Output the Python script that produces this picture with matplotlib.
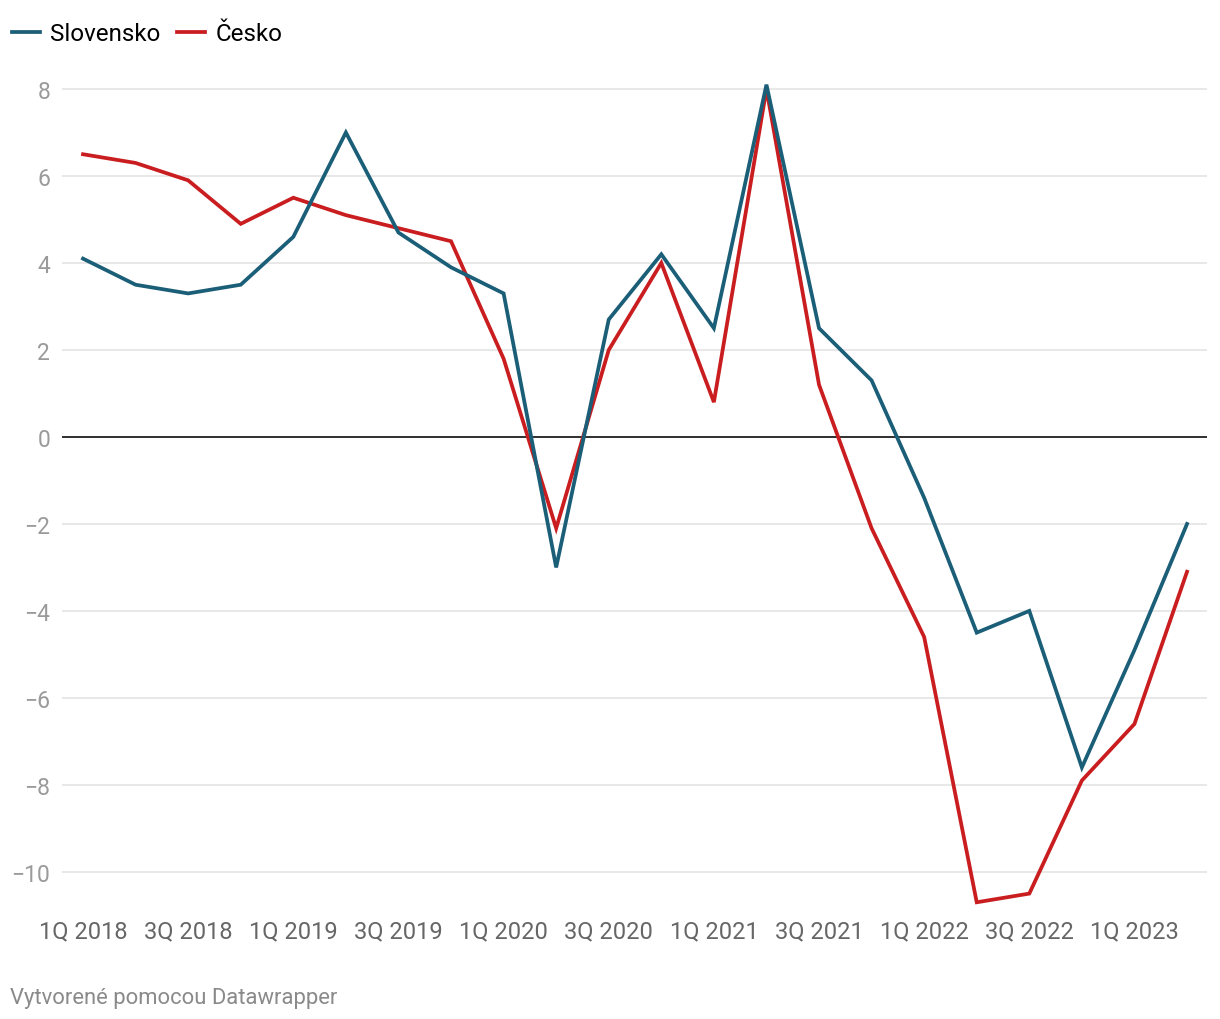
import matplotlib.pyplot as plt
import matplotlib.ticker as mticker

plt.rcParams['font.family'] = ['Roboto', 'DejaVu Sans']
plt.rcParams['axes.unicode_minus'] = True

# Data
quarters = ['1Q 2018', '2Q 2018', '3Q 2018', '4Q 2018',
            '1Q 2019', '2Q 2019', '3Q 2019', '4Q 2019',
            '1Q 2020', '2Q 2020', '3Q 2020', '4Q 2020',
            '1Q 2021', '2Q 2021', '3Q 2021', '4Q 2021',
            '1Q 2022', '2Q 2022', '3Q 2022', '4Q 2022',
            '1Q 2023', '2Q 2023']
slovensko = [4.1, 3.5, 3.3, 3.5, 4.6, 7.0, 4.7, 3.9, 3.3, -3.0, 2.7, 4.2,
             2.5, 8.1, 2.5, 1.3, -1.4, -4.5, -4.0, -7.6, -4.9, -2.0]
cesko = [6.5, 6.3, 5.9, 4.9, 5.5, 5.1, 4.8, 4.5, 1.8, -2.1, 2.0, 4.0,
         0.8, 8.0, 1.2, -2.1, -4.6, -10.7, -10.5, -7.9, -6.6, -3.1]
y_ticks = [-10, -8, -6, -4, -2, 0, 2, 4, 6, 8]

col_sk = '#1b5e78'
col_cz = '#c91d1f'

fig = plt.figure(figsize=(12.2, 10.2), dpi=100)
ax = fig.add_axes([62 / 1220, 0.1059, (1207 - 62) / 1220, 0.9288 - 0.1059])
ax.set_axisbelow(True)

x = list(range(len(quarters)))
ax.plot(x, slovensko, color=col_sk, lw=2.7, label='Slovensko', zorder=3,
        solid_joinstyle='miter')
ax.plot(x, cesko, color=col_cz, lw=2.7, label='Česko', zorder=2,
        solid_joinstyle='miter')

ax.set_xlim(-0.4, 21.38)
ax.set_ylim(-10.9, 8.4)

ax.set_yticks(y_ticks)
ax.yaxis.set_major_formatter(mticker.FuncFormatter(
    lambda v, p: f'{int(v)}'.replace('-', '\u2212')))
ax.set_xticks(x[::2])
ax.set_xticklabels(quarters[::2])

ax.grid(axis='y', color='#e2e2e2', lw=1.1)
ax.axhline(0, color='#111111', lw=1.2, zorder=1.8)
for s in ax.spines.values():
    s.set_visible(False)
ax.tick_params(axis='y', length=0, pad=8.5, labelsize=16.5, labelcolor='#9a9a9a')
ax.tick_params(axis='x', length=0, pad=6, labelsize=17, labelcolor='#666666')

fig.legend(loc='upper left', bbox_to_anchor=(0.0, 1 - 11 / 1020), ncol=2,
           frameon=False, fontsize=17.4, handlelength=1.16, handletextpad=0.41,
           columnspacing=0.7, borderaxespad=0.1)

fig.text(10 / 1220, 1 - 999 / 1020, 'Vytvorené pomocou Datawrapper',
         fontsize=15.8, color='#8a8a8a', va='center', ha='left')

fig.savefig('out.png', dpi=100)
